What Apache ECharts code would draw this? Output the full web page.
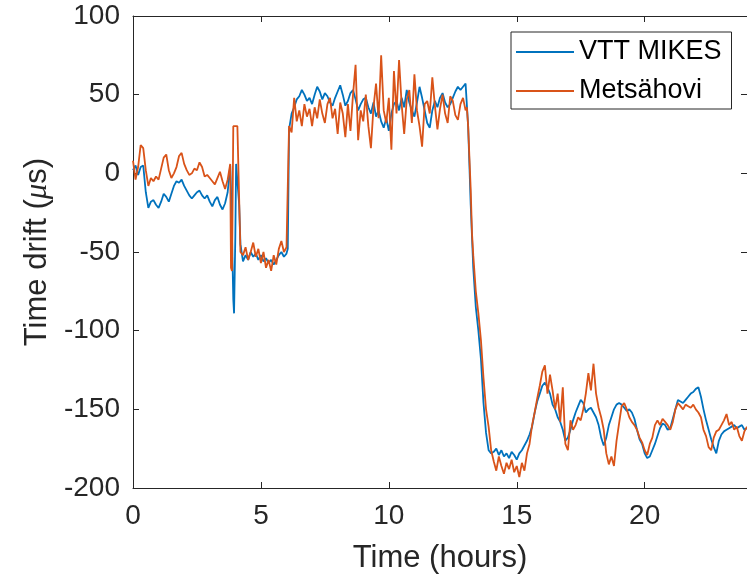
<!DOCTYPE html>
<html><head><meta charset="utf-8">
<script src="https://cdn.jsdelivr.net/npm/echarts@6/dist/echarts.min.js"></script>
<style>html,body{margin:0;padding:0;background:#fff}#c{width:747px;height:582px}</style>
</head><body><div id="c"></div>
<script>
// Time samples (hours)
const hours = [
0,0.1,0.2,0.3,0.4,0.5,0.6,0.7,0.8,0.9,1.0,1.1,1.2,1.3,1.4,1.5,1.6,1.7,1.8,1.9,2.0,2.1,2.2,2.3,2.4,2.5,2.6,2.7,2.8,2.9,3.0,3.1,3.2,3.3,3.4,3.5,3.6,3.7,3.8,
3.83,3.87,3.92,3.95,4.0,4.03,4.08,4.15,4.2,
4.3,4.4,4.5,4.6,4.7,4.8,4.9,5.0,5.1,5.2,5.3,5.4,5.5,5.6,5.7,5.8,5.9,6.0,
6.05,6.1,
6.2,6.3,6.4,6.5,6.6,6.7,6.8,6.9,7.0,7.1,7.2,7.3,7.4,7.5,7.6,7.7,7.8,7.9,8.0,8.1,8.2,8.3,8.4,8.5,8.6,8.7,8.8,8.9,9.0,9.1,9.2,9.3,9.4,9.5,9.6,9.7,9.8,9.9,10.0,10.1,10.2,10.3,10.4,10.5,10.6,10.7,10.8,10.9,11.0,11.1,11.2,11.3,11.4,11.5,11.6,11.7,11.8,11.9,12.0,12.1,12.2,12.3,12.4,12.5,12.6,12.7,12.8,12.9,13.0,
13.05,13.1,13.15,13.2,13.25,13.3,
13.4,13.5,13.6,13.7,13.8,13.9,14.0,14.1,14.2,14.3,14.4,14.5,14.6,14.7,14.8,14.9,15.0,15.1,15.2,15.3,15.4,15.5,15.6,15.7,15.8,15.9,16.0,16.1,16.2,16.3,16.4,16.5,16.6,16.7,16.8,16.9,17.0,17.1,17.2,17.3,17.4,17.5,17.6,17.7,17.8,17.9,18.0,18.1,18.2,18.3,18.4,18.5,18.6,18.7,18.8,18.9,19.0,19.1,19.2,19.3,19.4,19.5,19.6,19.7,19.8,19.9,20.0,20.1,20.2,20.3,20.4,20.5,20.6,20.7,20.8,20.9,21.0,21.1,21.2,21.3,21.4,21.5,21.6,21.7,21.8,21.9,22.0,22.1,22.2,22.3,22.4,22.5,22.6,22.7,22.8,22.9,23.0,23.1,23.2,23.3,23.4,23.5,23.6,23.7,23.8,23.9,24.0
];
// VTT MIKES time drift (µs)
const vttMikes = [
2,5,-1,4,5,-12,-22,-18,-17,-20,-22,-18,-13,-15,-18,-13,-8,-5,-6,-4,-8,-11,-14,-16,-14,-12,-11,-14,-16,-14,-18,-21,-17,-15,-20,-23,-19,-12,5,
-10,-40,-80,-89,-40,6,5,-20,-45,
-56,-52,-55,-50,-53,-51,-55,-52,-56,-54,-57,-55,-58,-55,-52,-50,-53,-51,
-48,28,
38,42,47,49,53,50,46,48,44,50,55,52,47,51,49,45,43,48,52,56,50,43,46,51,53,47,40,44,47,48,42,38,45,36,40,33,29,35,27,38,44,46,40,48,42,53,45,40,36,45,55,48,40,32,29,40,46,42,48,51,45,42,44,48,52,55,53,55,57,
56,30,5,-20,-40,-60,
-85,-100,-118,-146,-165,-176,
-178,-177,-175,-179,-176,-180,-178,-181,-177,-179,
-182,-178,-176,-173,-170,-166,-161,-152,-145,-140,
-135,-133,-136,-140,-147,-150,-155,-158,-163,-170,
-168,-163,-157,-152,-148,-144,-146,-152,-150,-149,
-152,-155,-160,-168,-173,-168,-160,-155,-150,-147,
-146,-147,-149,-151,-150,-152,-156,-163,-169,-172,
-178,-181,-180,-176,-172,-167,-162,-159,-160,-163,
-162,-156,-150,-144,-145,-146,-144,-142,-140,-139,
-137,-136,-142,-150,-157,-163,-169,-174,-178,-170,
-166,-164,-163,-162,-161,-160,-162,-161,-160,-163,
-162
];
// Metsähovi time drift (µs)
const metsahovi = [
8,-4,4,18,16,2,-8,-3,-5,-2,-4,3,10,12,2,-3,0,4,11,13,6,2,-1,0,3,2,7,4,-2,-1,-3,-5,-7,-3,1,-5,-10,-4,6,
-60,-62,30,30,30,30,30,30,-50,
-52,-47,-55,-50,-44,-53,-48,-57,-50,-60,-55,-62,-52,-58,-48,-43,-50,-47,
-46,30,
26,48,33,40,30,44,36,41,30,42,35,47,38,32,44,48,35,41,25,45,38,23,44,27,50,69,21,40,33,50,30,16,42,57,35,75,40,32,48,15,65,38,72,44,25,47,53,32,63,40,30,17,44,46,38,61,43,28,41,50,38,32,49,46,37,34,44,48,40,
42,30,29,-10,-38,-52,
-75,-89,-106,-130,-150,-161,
-176,-183,-189,-180,-186,-191,-184,-188,-182,-190,
-186,-193,-184,-189,-178,-172,-160,-152,-143,-135,
-126,-122,-140,-128,-138,-150,-140,-158,-136,-172,
-176,-157,-163,-160,-155,-157,-150,-140,-127,-138,
-121,-140,-149,-155,-163,-178,-185,-180,-186,-170,
-159,-148,-146,-150,-155,-158,-160,-163,-168,-171,
-176,-179,-172,-168,-160,-157,-160,-156,-158,-160,
-163,-158,-150,-146,-148,-150,-147,-148,-149,-147,
-150,-152,-155,-163,-167,-174,-176,-168,-164,-163,
-160,-157,-153,-160,-158,-163,-161,-167,-170,-164,
-161
];
const seriesNames = ['VTT MIKES', 'Metsähovi'];
const xLabel = 'Time (hours)';

const FONT = 'Liberation Sans, Arial, sans-serif';
const AX = '#262626';
const axisLineStyle = {color: AX, width: 1};

function pairs(v){ return hours.map((t,i)=>[t, v[i]]); }

const chart = echarts.init(document.getElementById('c'), null, {renderer:'canvas'});
chart.setOption({
  animation: false,
  backgroundColor: '#fff',
  grid: {left: 133, top: 16, right: -1, bottom: 94, containLabel: false},
  legend: {
    orient: 'vertical', left: 511, top: 32,
    padding: [5, 10, 3, 5], itemGap: 9,
    itemWidth: 58, itemHeight: 2, icon: 'rect',
    backgroundColor: '#fff', borderColor: AX, borderWidth: 1, borderRadius: 0,
    textStyle: {fontFamily: FONT, fontSize: 27, color: '#000', lineHeight: 30, padding: [0,0,0,0]},
    data: seriesNames
  },
  xAxis: [{
    type: 'value', min: 0, max: 24, interval: 5, position: 'bottom',
    axisLine: {show: true, onZero: false, lineStyle: axisLineStyle},
    axisTick: {show: true, inside: true, length: 6, lineStyle: axisLineStyle},
    axisLabel: {fontFamily: FONT, fontSize: 28, color: AX, margin: 14, showMaxLabel: false},
    splitLine: {show: false},
    name: xLabel, nameLocation: 'middle', nameGap: 55,
    nameTextStyle: {fontFamily: FONT, fontSize: 31, color: AX}
  }, {
    type: 'value', min: 0, max: 24, interval: 5, position: 'top',
    axisLine: {show: true, onZero: false, lineStyle: axisLineStyle},
    axisTick: {show: true, inside: true, length: 6, lineStyle: axisLineStyle},
    axisLabel: {show: false}, splitLine: {show: false}
  }],
  yAxis: [{
    type: 'value', min: -200, max: 100, interval: 50, position: 'left',
    axisLine: {show: true, onZero: false, lineStyle: axisLineStyle},
    axisTick: {show: true, inside: true, length: 6, lineStyle: axisLineStyle},
    axisLabel: {fontFamily: FONT, fontSize: 28, color: AX, margin: 13},
    splitLine: {show: false},
    name: 'Time drift ({mu|μ}s)', nameLocation: 'middle', nameGap: 76,
    nameTextStyle: {fontFamily: FONT, fontSize: 31, color: AX,
      rich: {mu: {fontFamily: 'Liberation Serif, serif', fontStyle: 'italic', fontSize: 31, color: AX}}}
  }, {
    type: 'value', min: -200, max: 100, interval: 50, position: 'right',
    axisLine: {show: true, onZero: false, lineStyle: axisLineStyle},
    axisTick: {show: true, inside: true, length: 6, lineStyle: axisLineStyle},
    axisLabel: {show: false}, splitLine: {show: false}
  }],
  series: [{
    name: seriesNames[0], type: 'line', xAxisIndex: 0, yAxisIndex: 0,
    data: pairs(vttMikes), symbol: 'none', showSymbol: false,
    lineStyle: {color: '#0072BD', width: 1.8}, itemStyle: {color: '#0072BD'}
  }, {
    name: seriesNames[1], type: 'line', xAxisIndex: 0, yAxisIndex: 0,
    data: pairs(metsahovi), symbol: 'none', showSymbol: false,
    lineStyle: {color: '#D95319', width: 1.8}, itemStyle: {color: '#D95319'}
  }]
});
</script></body></html>
